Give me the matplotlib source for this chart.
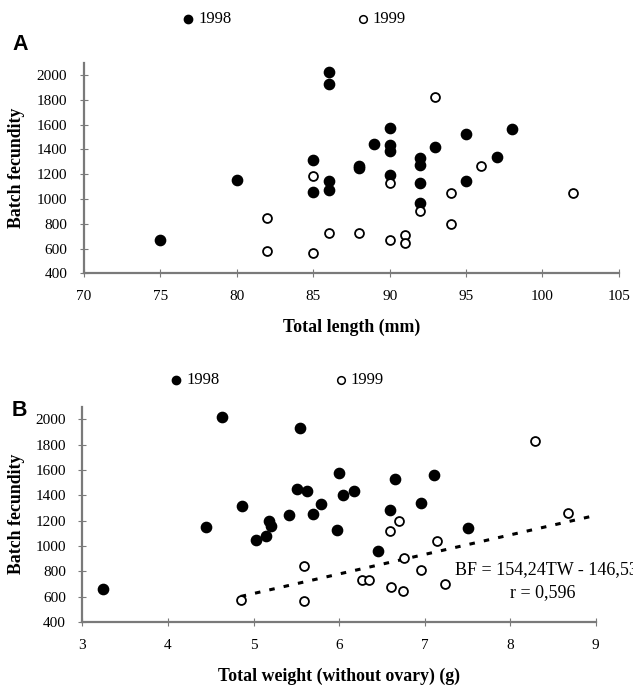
import numpy as np
import matplotlib
matplotlib.use("Agg")
import matplotlib.pyplot as plt

plt.rcParams['font.family'] = ['Liberation Serif', 'DejaVu Serif']

# --- panel A: total length (mm) vs batch fecundity
len98 = [75, 80, 85, 85, 86, 86, 86, 86, 88, 88, 89, 90, 90, 90, 90,
         92, 92, 92, 92, 93, 95, 95, 97, 98]
bf98_a = [667, 1151, 1317, 1058, 2024, 1927, 1141, 1071, 1250, 1265, 1446, 1574, 1432, 1390, 1191,
          1328, 1275, 1127, 967, 1422, 1528, 1141, 1341, 1564]
len99 = [82, 82, 85, 85, 86, 88, 90, 90, 91, 91, 92, 93, 94, 94, 96, 102]
bf99_a = [844, 577, 1186, 565, 729, 729, 670, 1130, 707, 646, 906, 1823, 1047, 801, 1269, 1047]

# --- panel B: total weight without ovary (g) vs batch fecundity
wt98 = [3.24, 4.44, 4.63, 4.87, 5.03, 5.14, 5.18, 5.21, 5.42, 5.51, 5.54, 5.63, 5.69, 5.79,
        5.97, 6.00, 6.05, 6.17, 6.65, 7.11, 6.60, 6.96, 6.45, 7.51]
bf98_b = [663, 1150, 2018, 1318, 1050, 1077, 1200, 1160, 1242, 1452, 1929, 1432, 1253, 1329,
          1129, 1574, 1405, 1432, 1529, 1563, 1287, 1339, 963, 1142]
wt99 = [4.85, 5.59, 5.59, 8.29, 8.68, 6.70, 6.60, 7.14, 6.76, 6.96, 6.27, 6.35, 6.61, 6.75, 7.24]
bf99_b = [574, 845, 563, 1829, 1263, 1197, 1121, 1039, 908, 808, 729, 729, 674, 642, 700]

# regression line shown in B
slope, intercept = 154.24, -146.53
fit_x = np.array([4.85, 8.97])

yticks = [400, 600, 800, 1000, 1200, 1400, 1600, 1800, 2000]

fig = plt.figure(figsize=(6.33, 6.91), dpi=100)
axA = fig.add_axes([0.1327, 0.6045, 0.845, 0.3048])
axB = fig.add_axes([0.1303, 0.0999, 0.8107, 0.3116])

grey = '#7a7a7a'

def style(ax):
    for s in ['top', 'right']:
        ax.spines[s].set_visible(False)
    for s in ['left', 'bottom']:
        ax.spines[s].set_color(grey)
        ax.spines[s].set_linewidth(1.6)
    ax.tick_params(direction='inout', length=6, width=0.8, color=grey,
                   labelsize=11, pad=9)
    ax.set_yticks(yticks)
    ax.set_ylim(400, 2100)
    ax.set_ylabel('Batch fecundity', fontsize=12.8, fontweight='bold')

def dots(ax, x1, y1, x2, y2):
    ax.plot(x1, y1, 'o', color='black', ms=7.4, zorder=3, clip_on=False)
    ax.plot(x2, y2, 'o', mfc='white', mec='black', ms=6.4, mew=1.3, zorder=3, clip_on=False)

style(axA)
dots(axA, len98, bf98_a, len99, bf99_a)
axA.set_xlim(70, 105)
axA.set_xticks(range(70, 106, 5))
axA.set_xlabel('Total length (mm)', fontsize=12.8, fontweight='bold')
axA.yaxis.set_label_coords(-0.110, 0.5)
axA.xaxis.set_label_coords(0.5, -0.217)

style(axB)
dots(axB, wt98, bf98_b, wt99, bf99_b)
axB.plot(fit_x, slope * fit_x + intercept, color='black', lw=2.2,
         linestyle=(0, (1.8, 3)), zorder=2)
axB.set_xlim(3, 9)
axB.set_xticks(range(3, 10))
axB.set_xlabel('Total weight (without ovary) (g)', fontsize=12.8, fontweight='bold')
axB.yaxis.set_label_coords(-0.112, 0.5)
axB.xaxis.set_label_coords(0.5, -0.214)
axB.text(7.36, 812, 'BF = 154,24TW - 146,53', fontsize=13, va='center', ha='left', clip_on=False)
axB.text(8.38, 630, 'r = 0,596', fontsize=13, va='center', ha='center')

# legends and panel letters (figure coordinates)
def legend_row(y, x1, x2):
    fig.lines.append(plt.Line2D([x1 / 633], [1 - y / 691], marker='o', color='black',
                                ms=6, transform=fig.transFigure, ls=''))
    fig.text((x1 + 10) / 633, 1 - y / 691, '1998', fontsize=12, va='center')
    fig.lines.append(plt.Line2D([x2 / 633], [1 - y / 691], marker='o', mfc='white', mec='black',
                                mew=1.1, ms=5.5, transform=fig.transFigure, ls=''))
    fig.text((x2 + 9) / 633, 1 - y / 691, '1999', fontsize=12, va='center')

legend_row(19, 188, 363)
legend_row(380, 176, 341)

fig.text(12 / 633, 1 - 44 / 691, 'A', fontsize=15.5, fontweight='bold', family='Liberation Sans', va='center')
fig.text(12 / 633, 1 - 410 / 691, 'B', fontsize=15.5, fontweight='bold', family='Liberation Sans', va='center')

fig.savefig('out.png', dpi=100)
